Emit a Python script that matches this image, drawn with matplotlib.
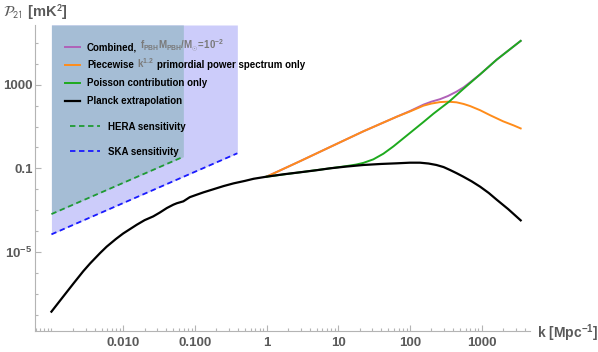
import numpy as np
import matplotlib
matplotlib.use("Agg")
import matplotlib.pyplot as plt
from matplotlib.transforms import IdentityTransform
from matplotlib.ticker import FixedLocator, LogLocator, FuncFormatter, NullFormatter

plt.rcParams['font.family'] = ['Liberation Sans', 'DejaVu Sans']
plt.rcParams['mathtext.fontset'] = 'custom'
plt.rcParams['mathtext.rm'] = 'Liberation Sans'
plt.rcParams['mathtext.bf'] = 'Liberation Sans:bold'
plt.rcParams['mathtext.it'] = 'Liberation Sans:italic'

# ---- data (log10 values) ----
planck_logk = [-3.0, -2.85, -2.69, -2.555, -2.46, -2.32, -2.23, -2.10, -2.0, -1.81,
               -1.70, -1.58, -1.49, -1.39, -1.30, -1.25, -1.16, -1.07, -0.98, -0.88,
               -0.74, -0.60, -0.46, -0.30, -0.18, 0.0, 0.25, 0.467, 0.70, 0.886,
               1.10, 1.35, 1.60, 1.816, 2.0, 2.14, 2.26, 2.37, 2.47, 2.56,
               2.65, 2.745, 2.86, 2.98, 3.10, 3.21, 3.37, 3.545]
planck_logP = [-7.86, -7.20, -6.50, -5.92, -5.55, -5.05, -4.75, -4.38, -4.12, -3.70,
               -3.48, -3.30, -3.12, -2.90, -2.74, -2.67, -2.58, -2.38, -2.27, -2.15,
               -2.00, -1.85, -1.72, -1.60, -1.50, -1.40, -1.28, -1.19, -1.09, -1.00,
               -0.92, -0.84, -0.79, -0.76, -0.73, -0.73, -0.77, -0.84, -0.94, -1.08,
               -1.23, -1.40, -1.62, -1.88, -2.18, -2.50, -2.95, -3.49]

orange_logk = [0.0, 0.467, 0.886, 1.35, 1.816, 2.0, 2.19, 2.30, 2.42, 2.53,
               2.65, 2.75, 2.84, 2.98, 3.12, 3.30, 3.45, 3.545]
orange_logP = [-1.40, -0.66, 0.02, 0.77, 1.47, 1.72, 2.00, 2.10, 2.17, 2.19,
               2.16, 2.08, 1.98, 1.78, 1.54, 1.25, 1.05, 0.91]

green_logk = [0.0, 0.467, 0.886, 1.10, 1.25, 1.35, 1.49, 1.63, 1.77, 1.91,
              2.05, 2.19, 2.33, 2.55, 2.745, 2.98, 3.21, 3.545]
green_logP = [-1.40, -1.19, -1.00, -0.90, -0.82, -0.74, -0.57, -0.30, 0.05, 0.44,
              0.83, 1.22, 1.62, 2.20, 2.80, 3.50, 4.20, 5.10]

combined_logk = [0.0, 0.467, 0.886, 1.35, 1.816, 2.0, 2.19, 2.30, 2.42, 2.53,
                 2.65, 2.75, 2.84, 2.98, 3.21, 3.545]
combined_logP = [-1.40, -0.66, 0.02, 0.77, 1.47, 1.74, 2.05, 2.19, 2.31, 2.46,
                 2.67, 2.88, 3.12, 3.50, 4.20, 5.10]

hera_logk = [-3.0, -1.16]
hera_logP = [-3.19, -0.445]
ska_logk = [-3.0, -0.407]
ska_logP = [-4.16, -0.28]

x_ticks = [0.01, 0.1, 1, 10, 100, 1000]
x_ticklabels = ["0.010", "0.100", "1", "10", "100", "1000"]
y_ticks = [1e-5, 0.1, 1000]

k = lambda a: 10.0 ** np.array(a)

fig = plt.figure(figsize=(5.98, 3.52), dpi=100)
ax = fig.add_axes([35.3 / 598, 1 - 331.3 / 352, (530 - 35.3) / 598, (331.3 - 25) / 352])

xlim = (10 ** -3.225, 10 ** 3.675)
ylim = (10 ** -8.8, 10 ** 5.86)

# sensitivity regions
ax.fill_between(k(ska_logk), k(ska_logP), ylim[1], color="#ccccfa", lw=0, zorder=1)
ax.fill_between(k(hera_logk), k(hera_logP), ylim[1], color="#a5bdd5", lw=0, zorder=1.1)

l_comb, = ax.plot(k(combined_logk), k(combined_logP), color="#b061b8", lw=1.4, zorder=2)
l_or, = ax.plot(k(orange_logk), k(orange_logP), color="#ff8c1a", lw=1.4, zorder=2.1)
l_gr, = ax.plot(k(green_logk), k(green_logP), color="#1eaa1e", lw=1.4, zorder=2.2)
l_bk, = ax.plot(k(planck_logk), k(planck_logP), color="black", lw=1.6, zorder=2.3)
l_hera, = ax.plot(k(hera_logk), k(hera_logP), color="#1f9a33", lw=1.3, ls=(0, (3, 2)), zorder=2.4)
l_ska, = ax.plot(k(ska_logk), k(ska_logP), color="#1a1aff", lw=1.3, ls=(0, (3, 2)), zorder=2.4)

ax.set_xscale("log")
ax.set_yscale("log")
ax.set_xlim(*xlim)
ax.set_ylim(*ylim)

for s in ["top", "right"]:
    ax.spines[s].set_visible(False)
for s in ["left", "bottom"]:
    ax.spines[s].set_color("#b4b4b4")
    ax.spines[s].set_linewidth(0.8)

ax.xaxis.set_major_locator(FixedLocator(x_ticks))
ax.xaxis.set_major_formatter(FuncFormatter(lambda v, p: x_ticklabels[x_ticks.index(v)] if v in x_ticks else ""))
ax.xaxis.set_minor_locator(LogLocator(base=10, subs=np.arange(1, 10), numticks=30))
ax.xaxis.set_minor_formatter(NullFormatter())

def ylab(v, p):
    if v == 1000:
        return "1000"
    if v == 0.1:
        return "0.1"
    return r"$\mathbf{10^{%d}}$" % int(round(np.log10(v)))

ax.yaxis.set_major_locator(FixedLocator(y_ticks))
ax.yaxis.set_major_formatter(FuncFormatter(ylab))
ax.yaxis.set_minor_locator(LogLocator(base=10, subs=(1.0,), numticks=30))
ax.yaxis.set_minor_formatter(NullFormatter())

ax.tick_params(which="both", direction="in", color="#b4b4b4", width=0.8,
               labelcolor="#5a5a5a", labelsize=9.5)
ax.tick_params(which="major", length=4)
ax.tick_params(which="minor", length=2)
for t in ax.get_xticklabels() + ax.get_yticklabels():
    t.set_fontweight("bold")
ax.tick_params(axis="x", pad=4)
ax.tick_params(axis="y", pad=2)

ax.set_xlabel(r"k [Mpc$^{\mathbf{-1}}$]", color="#5a5a5a", fontsize=10,
              fontweight="bold", ha="left", va="center")
ax.xaxis.set_label_coords(1.014, -0.005)
ax.set_ylabel(r"$\mathcal{P}_{21}$ [mK$^{\mathbf{2}}$]", color="#5a5a5a", fontsize=10.5,
              fontweight="bold", rotation=0, ha="left", va="center",
              math_fontfamily="stixsans")
ax.yaxis.set_label_coords(-0.065, 1.042)

# legends
leg1 = ax.legend([l_comb, l_or, l_gr, l_bk],
                 ["Combined,", "Piecewise", "Poisson contribution only", "Planck extrapolation"],
                 loc="upper left", bbox_to_anchor=(65 / 598, 1 - 42 / 352),
                 bbox_transform=fig.transFigure, frameon=False, fontsize=7,
                 handlelength=1.55, handletextpad=0.7, labelspacing=0.84,
                 borderpad=0, borderaxespad=0)
for t in leg1.get_texts():
    t.set_fontweight("bold")
ax.add_artist(leg1)

leg2 = ax.legend([l_hera, l_ska], ["HERA sensitivity", "SKA sensitivity"],
                 loc="upper left", bbox_to_anchor=(70 / 598, 1 - 121.5 / 352),
                 bbox_transform=fig.transFigure, frameon=False, fontsize=7,
                 handlelength=3.1, handletextpad=0.8, labelspacing=1.55,
                 borderpad=0, borderaxespad=0)
for t in leg2.get_texts():
    t.set_fontweight("bold")

# grey parts of the legend labels, placed after a first draw on the same baseline
fig.canvas.draw()
rend = fig.canvas.get_renderer()

def after(t, s, gap=3, **kw):
    bb = t.get_window_extent(rend)
    y0 = t.get_transform().transform(t.get_position())[1]
    return fig.text(bb.x1 + gap, y0, s, transform=IdentityTransform(),
                    va="baseline", ha="left", fontsize=7, **kw)

tx = leg1.get_texts()
after(tx[0], r"$\mathbf{f_{PBH}M_{PBH}/M_{\odot}\!=\!10^{-2}}$", color="#7a7a7a")
a1 = after(tx[1], r"$\mathbf{k^{1.2}}$", color="#7a7a7a")
fig.canvas.draw()
after(a1, "primordial power spectrum only", color="black", fontweight="bold")

fig.savefig("out.png", dpi=100)
